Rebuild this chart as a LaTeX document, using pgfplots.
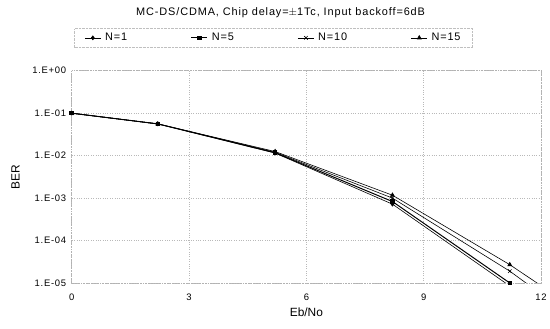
\documentclass[border=0pt]{standalone}
\usepackage{pgfplots}
\pgfplotsset{compat=1.18}
\usepackage{fontspec}
\setmainfont{Liberation Sans}
\newfontfamily\spaced[LetterSpace=8]{Liberation Sans}

% BER vs Eb/No for several numbers of users
\pgfplotstableread{
x      y
0      0.1
2.2    0.056
5.2    0.0115
8.2    7.2e-4
11.2   8.5e-6
14     1e-7
}\None
\pgfplotstableread{
x      y
0      0.1
2.2    0.056
5.2    0.0117
8.2    8.3e-4
11.2   1.0e-5
14     1e-7
}\Nfive
\pgfplotstableread{
x      y
0      0.1
2.2    0.056
5.2    0.012
8.2    1.0e-3
11.2   1.9e-5
14     2.5e-7
}\Nten
\pgfplotstableread{
x      y
0      0.1
2.2    0.056
5.2    0.0125
8.2    1.17e-3
11.2   2.7e-5
14     5e-7
}\Nfifteen

\begin{document}
\begin{tikzpicture}
\begin{semilogyaxis}[
  name=ax,
  scale only axis,
  width=471bp, height=213bp,
  xmin=0, xmax=12,
  ymin=1e-5, ymax=1,
  xtick={0,3,6,9,12},
  ytick={1e-5,1e-4,1e-3,1e-2,1e-1,1},
  yticklabels={1.E-05,1.E-04,1.E-03,1.E-02,1.E-01,1.E+00},
  major tick length=0pt,
  minor tick length=0pt,
  tick label style={font=\spaced\fontsize{9.5}{11}\selectfont},
  /pgf/number format/assume math mode=true,
  xticklabel style={yshift=-7bp},
  yticklabel style={xshift=-2bp},
  grid=major,
  grid style={gray!55, dotted, line width=0.6pt},
  axis line style={gray!60, densely dotted, line width=0.6pt},
  xlabel={Eb/No},
  ylabel={BER},
  label style={font=\fontsize{12}{14}\selectfont},
  xlabel style={yshift=-1bp},
  ylabel style={yshift=6bp},
  title={MC-DS/CDMA, Chip delay=$\pm$1Tc, Input backoff=6dB},
  title style={font=\spaced\fontsize{11}{13}\selectfont, at={(0.445,1)}, yshift=44bp, anchor=south},
  legend columns=4,
  legend style={
    at={(0.43,1.155)}, anchor=center,
    draw=gray!50, densely dotted,
    font=\spaced\fontsize{11}{13}\selectfont,
    /tikz/every even column/.append style={column sep=62bp},
    /tikz/every odd column/.append style={column sep=2bp},
    inner xsep=10bp, inner ysep=3bp,
  },
  legend image code/.code={%
    \draw[mark repeat=2,mark phase=2] plot coordinates {(0bp,0bp) (8bp,0bp) (16bp,0bp)};},
  legend image post style={solid},
]
\addplot[black, line width=0.6pt, mark=diamond*, mark size=2pt, mark options={solid}] table {\None};
\addlegendentry{N=1}
\addplot[black, line width=1pt, mark=square*, mark size=1.8pt, mark options={solid}] table {\Nfive};
\addlegendentry{N=5}
\addplot[black, line width=0.6pt, mark=x, mark size=2.5pt, mark options={solid}] table {\Nten};
\addlegendentry{N=10}
\addplot[black, line width=0.6pt, mark=triangle*, mark size=2.3pt, mark options={solid}] table {\Nfifteen};
\addlegendentry{N=15}
\end{semilogyaxis}
\path (ax.south west) ++(-72bp,-46bp) rectangle ++(550bp,330bp);
\end{tikzpicture}
\end{document}
